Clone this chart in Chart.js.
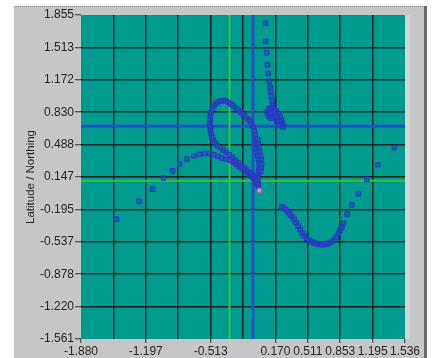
<!DOCTYPE html>
<html><head><meta charset="utf-8">
<script src="https://cdn.jsdelivr.net/npm/chart.js@4/dist/chart.umd.min.js"></script>
<style>html,body{margin:0;padding:0;background:#fff}canvas{display:block}</style>
</head><body>
<canvas id="c" width="436" height="358"></canvas>
<script>
// axis ticks
const xTickValues = [-1.880,-1.538,-1.197,-0.855,-0.513,-0.172,0.170,0.511,0.853,1.195,1.536];
const xTickLabels = ['-1.880','','-1.197','','-0.513','','0.170','0.511','0.853','1.195','1.536'];
const yTickValues = [-1.561,-1.220,-0.878,-0.537,-0.195,0.147,0.488,0.830,1.172,1.513,1.855];
const yTickLabels = ['-1.561','-1.220','-0.878','-0.537','-0.195','0.147','0.488','0.830','1.172','1.513','1.855'];
// track: western arc
const arcX = [-1.507,-1.269,-1.125,-1.009,-0.915,-0.838,-0.762,-0.691,-0.633,-0.577,-0.522,-0.480,-0.438,-0.394,-0.349,-0.306,-0.275,-0.243,-0.212,-0.180,-0.148,-0.117,-0.091,-0.064,-0.043,-0.027];
const arcY = [-0.298,-0.109,0.019,0.136,0.211,0.284,0.336,0.369,0.385,0.395,0.395,0.382,0.366,0.348,0.334,0.324,0.303,0.281,0.257,0.234,0.207,0.181,0.160,0.133,0.107,0.075];
// track: loop
const loopX = [-0.054,-0.080,-0.106,-0.133,-0.159,-0.191,-0.222,-0.254,-0.285,-0.317,-0.349,-0.380,-0.412,-0.443,-0.464,-0.485,-0.499,-0.509,-0.515,-0.517,-0.520,-0.520,-0.517,-0.510,-0.496,-0.478,-0.457,-0.433,-0.406,-0.380,-0.354,-0.327,-0.301,-0.275,-0.249,-0.222,-0.196,-0.170,-0.143,-0.117,-0.096,-0.077,-0.062,-0.052,-0.045,-0.043,-0.041,-0.038,-0.033,-0.025,-0.017,-0.008,-0.001,0.002,-0.003,-0.009,-0.014,-0.015,-0.014,-0.012,-0.008,
  -0.017,-0.012,-0.004,0.004,0.013,0.020,0.025,0.020,0.013];
const loopY = [0.149,0.176,0.197,0.218,0.244,0.271,0.297,0.324,0.355,0.382,0.408,0.432,0.456,0.477,0.504,0.535,0.567,0.604,0.641,0.678,0.715,0.752,0.789,0.826,0.863,0.895,0.922,0.940,0.950,0.953,0.948,0.934,0.916,0.897,0.876,0.853,0.829,0.805,0.781,0.755,0.731,0.699,0.668,0.631,0.594,0.557,0.519,0.482,0.445,0.408,0.371,0.334,0.297,0.266,0.234,0.202,0.170,0.139,0.107,0.075,0.043,
  0.541,0.498,0.456,0.414,0.371,0.329,0.287,0.244,0.202];
// track: northern run and cluster
const northX = [0.065,0.067,0.078,0.086,0.094,0.104,0.115,0.122,0.128,0.136,0.141,
  0.094,0.115,0.136,0.157,0.178,0.199,0.220,0.236,0.246,0.252,0.083,0.088,0.104,0.125,0.146,0.167,0.188,0.210,0.225,0.136,0.162,0.115,0.183,0.204];
const northY = [1.768,1.577,1.458,1.329,1.239,1.157,1.094,1.045,0.999,0.948,0.906,
  0.858,0.874,0.879,0.863,0.842,0.816,0.784,0.747,0.710,0.673,0.832,0.805,0.784,0.768,0.784,0.800,0.773,0.736,0.699,0.826,0.826,0.816,0.731,0.689];
// track: south-east curve
const southX = [0.238,0.262,0.283,0.304,0.325,0.346,0.367,0.389,0.410,0.431,0.452,0.473,0.499,0.525,0.552,0.578,0.604,0.631,0.657,0.683,0.710,0.736,0.762,0.789,0.813,0.834,0.852,0.870,0.887,0.926,0.975,1.045,1.133,1.249,1.424];
const southY = [-0.168,-0.184,-0.200,-0.221,-0.248,-0.272,-0.300,-0.335,-0.371,-0.407,-0.443,-0.475,-0.501,-0.521,-0.535,-0.547,-0.557,-0.563,-0.566,-0.565,-0.560,-0.549,-0.534,-0.515,-0.488,-0.449,-0.415,-0.380,-0.341,-0.245,-0.147,-0.029,0.123,0.276,0.456];
// reference point
const originX = [0.000];
const originY = [0.005];
// cursors
const greenCursor = [-0.314, 0.107];
const blueCursor = [-0.067, 0.681];

const X_MIN = -1.880, X_MAX = 1.536, Y_MIN = -1.561, Y_MAX = 1.855;
const pts = (xs, ys) => xs.map((x, i) => ({x, y: ys[i]}));
const track = [].concat(pts(arcX, arcY), pts(loopX, loopY), pts(northX, northY), pts(southX, southY));

const bgPlugin = {
  id: 'bg',
  beforeDraw(chart) {
    const ctx = chart.ctx, a = chart.chartArea;
    ctx.save();
    ctx.fillStyle = '#ffffff';
    ctx.fillRect(0, 0, chart.width, chart.height);
    ctx.fillStyle = '#c4c6c8';
    ctx.fillRect(14, 6, 410, 352);
    ctx.fillStyle = '#d2d5d6';
    ctx.fillRect(a.right, a.top, 5, a.bottom - a.top);
    ctx.fillStyle = '#6a6a6a';
    ctx.fillRect(424, 6, 3, 352);
    ctx.strokeStyle = '#8a8a8a';
    ctx.setLineDash([1, 1]);
    ctx.beginPath(); ctx.moveTo(14, 6.5); ctx.lineTo(424, 6.5); ctx.stroke();
    ctx.setLineDash([]);
    ctx.fillStyle = '#009b8f';
    ctx.fillRect(a.left, a.top, a.right - a.left, a.bottom - a.top);
    ctx.restore();
  }
};

const font = {family: "'Liberation Sans', Arial, sans-serif", size: 12};
const lineDs = (data, color, w) => ({data, showLine: true, borderColor: color, borderWidth: w, pointRadius: 0, order: 2});

new Chart(document.getElementById('c'), {
  type: 'scatter',
  data: {
    datasets: [
      {data: pts(originX, originY), pointStyle: 'rect', pointRadius: 2.6, borderWidth: 1,
       pointBorderColor: '#c060b0', pointBackgroundColor: '#f090d8', order: 0},
      {data: track, pointStyle: 'rect', pointRadius: 3.2, borderWidth: 1,
       pointBorderColor: '#2838c0', pointBackgroundColor: 'rgba(48,66,196,0.65)', order: 1},
      lineDs([{x: greenCursor[0], y: Y_MIN}, {x: greenCursor[0], y: Y_MAX}], '#3cc03c', 2),
      lineDs([{x: X_MIN, y: greenCursor[1]}, {x: X_MAX, y: greenCursor[1]}], '#3cc03c', 2),
      lineDs([{x: blueCursor[0], y: Y_MIN}, {x: blueCursor[0], y: Y_MAX}], '#2050cc', 3),
      lineDs([{x: X_MIN, y: blueCursor[1]}, {x: X_MAX, y: blueCursor[1]}], '#2050cc', 3)
    ]
  },
  options: {
    responsive: false,
    devicePixelRatio: 1,
    animation: false,
    events: [],
    layout: {padding: {left: 20, top: 15, right: 31, bottom: 0}},
    plugins: {legend: {display: false}, tooltip: {enabled: false}},
    scales: {
      x: {
        type: 'linear', min: X_MIN, max: X_MAX,
        afterBuildTicks: s => { s.ticks = xTickValues.map(v => ({value: v})); },
        afterFit: s => { s.height = 19; },
        ticks: {autoSkip: false, maxRotation: 0, minRotation: 0, padding: 1, color: '#262626', font,
                callback: (v, i) => xTickLabels[i]},
        grid: {lineWidth: 1.5, tickLength: 4, tickWidth: 1,
               color: c => (c.index === 0 || c.index === xTickValues.length - 1) ? 'rgba(0,0,0,0)' : '#0b2723',
               tickColor: c => xTickLabels[c.index] ? '#333' : 'rgba(0,0,0,0)'},
        border: {display: false}
      },
      y: {
        type: 'linear', min: Y_MIN, max: Y_MAX,
        afterBuildTicks: s => { s.ticks = yTickValues.map(v => ({value: v})); },
        afterFit: s => { s.width = 61; },
        ticks: {autoSkip: false, padding: 1, color: '#262626', font,
                callback: (v, i) => yTickLabels[i]},
        grid: {lineWidth: 1.5, tickLength: 6, tickWidth: 1,
               color: c => (c.index === 0 || c.index === yTickValues.length - 1) ? 'rgba(0,0,0,0)' : '#0b2723',
               tickColor: '#333'},
        border: {display: false},
        title: {display: true, text: 'Latitude / Northing', color: '#262626',
                font: {family: "'Liberation Sans', Arial, sans-serif", size: 11.5}, padding: {top: 4, bottom: 2}}
      }
    }
  },
  plugins: [bgPlugin]
});
</script>
</body></html>
